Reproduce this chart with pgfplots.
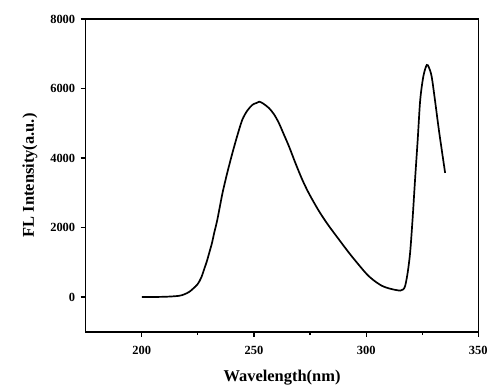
\documentclass[border=0pt]{standalone}
\usepackage{fontspec}
\setmainfont{Liberation Serif}
\usepackage{pgfplots}
\pgfplotsset{compat=1.18}
\begin{document}
\begin{tikzpicture}
\begin{axis}[
  scale only axis,
  width=394pt, height=314pt,
  xmin=175, xmax=350, ymin=-1000, ymax=8000,
  xtick={200,250,300,350},
  ytick={0,2000,4000,6000,8000},
  minor xtick={225,275,325},
  tick align=outside,
  major tick length=5pt,
  minor tick length=3pt,
  every tick/.style={black, line width=1.2pt},
  axis line style={line width=1.5pt},
  xtick pos=bottom, ytick pos=left,
  /pgf/number format/assume math mode=true,
  /pgf/number format/1000 sep={},
  tick label style={font=\bfseries\fontsize{12.5}{15}\selectfont},
  xticklabel style={yshift=-6pt},
  yticklabel style={xshift=-2pt},
  xlabel={Wavelength(nm)},
  ylabel={FL Intensity(a.u.)},
  label style={font=\bfseries\fontsize{16.5}{18}\selectfont},
  xlabel style={yshift=-9pt},
  ylabel style={yshift=6pt},
]
\addplot[black, line width=1.7pt, smooth, tension=0.5] coordinates {
(200,0) (204,2) (208,5) (212.5,15) (216.7,37) (219,80) (221.2,152) (223,250) (224.9,372) (226.5,560) (227.8,802) (229,1030) (230.1,1280) (231.3,1560) (232.3,1853) (233.7,2235) (236,3000) (238.2,3600) (240.4,4146) (242.6,4650) (244.8,5100) (247,5360) (249.3,5530) (251,5580) (252.3,5620) (254,5570) (256.7,5435) (259,5250) (261.1,5006) (263.3,4680) (265.6,4335) (268.5,3850) (271.5,3381) (274.5,2980) (278.9,2480) (283,2080) (287.8,1662) (293,1220) (299.6,707) (303,500) (307,325) (311,235) (315.2,185) (316.5,220) (317.4,325) (318.5,700) (319.6,1280) (320.7,2250) (321.8,3381) (323,4550) (324.1,5673) (325.5,6350) (327,6676) (328,6600) (329.2,6340) (330.7,5650) (332.2,4908) (333.7,4230) (335.2,3572)
};
\end{axis}
\path (current axis.south west) ++(-86pt,-52pt) coordinate (bl);
\path (current axis.north east) ++(10pt,19pt) coordinate (tr);
\useasboundingbox (bl) rectangle (tr);
\end{tikzpicture}
\end{document}
